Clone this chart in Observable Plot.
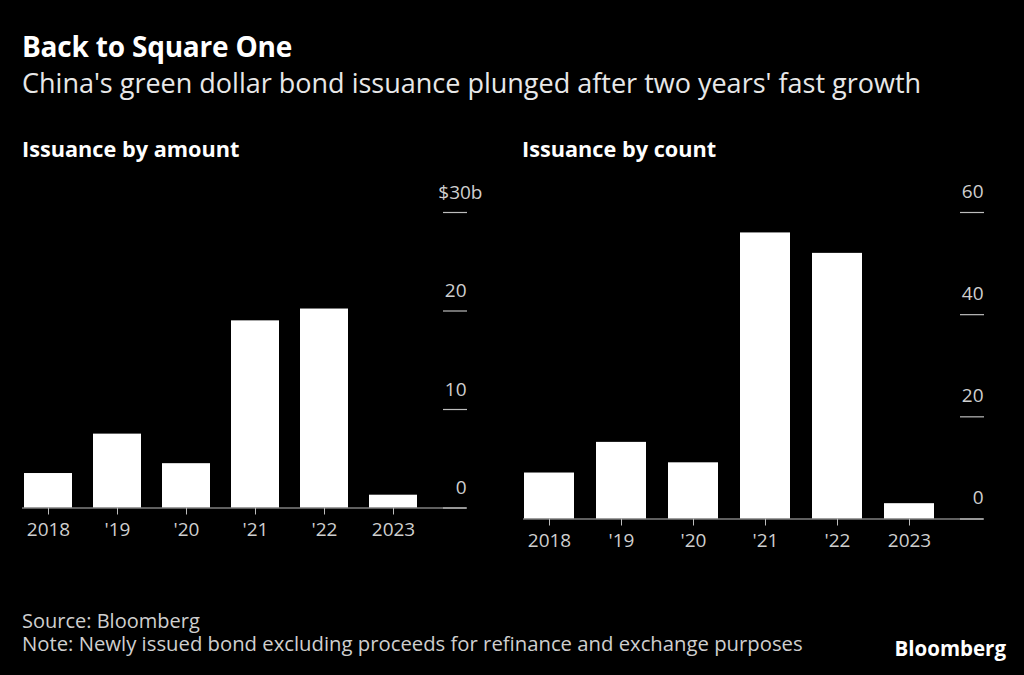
<!DOCTYPE html>
<html><head><meta charset="utf-8">
<script src="https://cdn.jsdelivr.net/npm/d3@7"></script>
<script src="https://cdn.jsdelivr.net/npm/@observablehq/plot@0.6"></script>
<style>
html,body{margin:0;padding:0;background:#000;}
body{width:1024px;height:675px;overflow:hidden;position:relative;font-family:"Open Sans",sans-serif;color:#fff}
.t{position:absolute;white-space:nowrap;line-height:1}
#title{left:22px;top:32px;font-size:28px;font-weight:700;color:#fff;letter-spacing:-0.2px}
#subtitle{left:22px;top:69px;font-size:27px;color:#e8e8e8}
.hdr{top:138px;font-size:21.7px;font-weight:700;color:#fff}
#source{left:22px;top:611px;font-size:20px;color:#cfcfcf}
#note{left:22px;top:633px;font-size:20.3px;color:#cfcfcf}
#logo{right:18px;top:638px;font-size:20.5px;font-weight:700;color:#fff}
.panel{position:absolute;top:170px}
</style></head><body>
<div class="t" id="title">Back to Square One</div>
<div class="t" id="subtitle">China's green dollar bond issuance plunged after two years' fast growth</div>
<div class="t hdr" style="left:22px">Issuance by amount</div>
<div class="t hdr" style="left:522px">Issuance by count</div>
<div class="panel" id="left" style="left:0"></div>
<div class="panel" id="right" style="left:512px"></div>
<div class="t" id="source">Source: Bloomberg</div>
<div class="t" id="note">Note: Newly issued bond excluding proceeds for refinance and exchange purposes</div>
<div class="t" id="logo">Bloomberg</div>
<script>
const years = ["2018", "2019", "2020", "2021", "2022", "2023"];
const yearLabels = ["2018", "'19", "'20", "'21", "'22", "2023"];
const amount = [3.5, 7.5, 4.5, 19.0, 20.2, 1.3];
const count = [9, 15, 11, 56, 52, 3];
const amountTicks = [0, 10, 20, 30];
const countTicks = [0, 20, 40, 60];
const amountTickLabels = ["0", "10", "20", "$30b"];
const countTickLabels = ["0", "20", "40", "60"];

function panel({values, ticks, tickLabels, marginLeft, marginRight, insetRight, marginBottom, labelDy, topDx}) {
  const data = years.map((y, i) => ({year: y, v: values[i]}));
  const fmt = d => tickLabels[ticks.indexOf(d)];
  const lower = ticks.slice(0, -1);
  const top = ticks.slice(-1);
  return Plot.plot({
    width: 512,
    height: 380,
    marginTop: 42,
    marginBottom,
    marginLeft,
    marginRight,
    style: {background: "transparent", color: "#cfcfcf", fontFamily: "'Open Sans', sans-serif", fontSize: "19px", overflow: "visible"},
    x: {domain: years, paddingInner: 0.3, paddingOuter: 0, insetRight},
    y: {domain: [ticks[0], ticks[ticks.length - 1]]},
    marks: [
      Plot.barY(data, {x: "year", y: "v", fill: "#fff"}),
      Plot.ruleY([0], {stroke: "#bdbdbd", strokeWidth: 1.2}),
      Plot.axisX({tickSize: 7, tickPadding: 7, label: null, stroke: "#bdbdbd", fill: "#cfcfcf",
        tickFormat: d => yearLabels[years.indexOf(d)]}),
      Plot.axisY(ticks, {anchor: "right", tickSize: -24, text: null, label: null, stroke: "#bdbdbd", strokeWidth: 1.2}),
      Plot.axisY(lower, {anchor: "right", tickSize: 0, tickPadding: 0, textAnchor: "end", dy: labelDy, label: null,
        fill: "#cfcfcf", tickFormat: fmt}),
      Plot.axisY(top, {anchor: "right", tickSize: 0, tickPadding: 0, textAnchor: "end", dy: labelDy, dx: topDx, label: null,
        fill: "#cfcfcf", tickFormat: fmt})
    ]
  });
}

document.getElementById("left").append(panel({
  values: amount, ticks: amountTicks, tickLabels: amountTickLabels,
  marginLeft: 22, marginRight: 46, insetRight: 47, marginBottom: 42.5, labelDy: -20, topDx: 16
}));
document.getElementById("right").append(panel({
  values: count, ticks: countTicks, tickLabels: countTickLabels,
  marginLeft: 11, marginRight: 41, insetRight: 48, marginBottom: 31.5, labelDy: -21, topDx: 0
}));
</script>
</body></html>
